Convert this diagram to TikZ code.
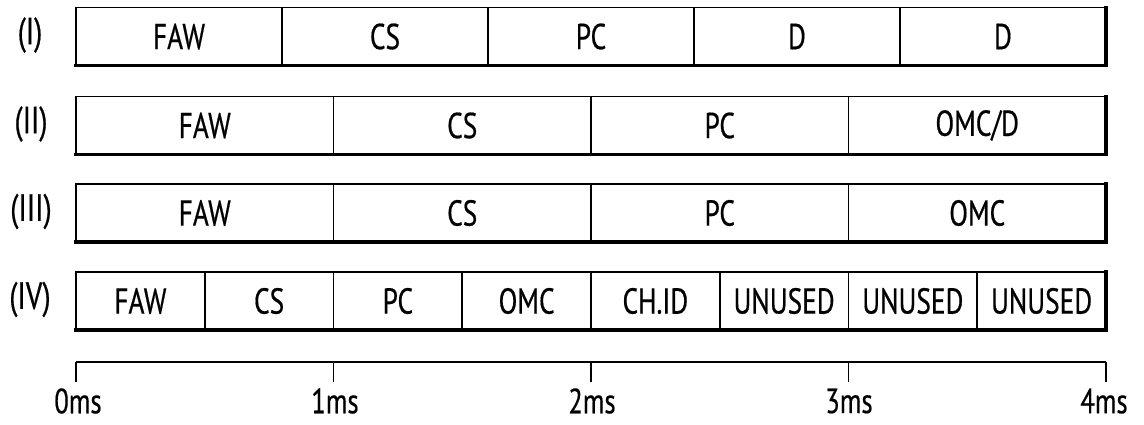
\documentclass[tikz,border=0pt]{standalone}
\usepackage{fontspec}
\setmainfont[FakeStretch=0.76,FakeBold=0.5]{PT Sans}
\usetikzlibrary{positioning}

\begin{document}
\begin{tikzpicture}[
    x=1pt, y=-1pt,
    node distance = 0pt,
    cell/.style = {
        rectangle,
        draw=black,
        line width=1.6pt,
        outer sep=0pt,
        inner sep=0pt,
        minimum height=58pt,
        font=\fontsize{36}{40}\selectfont
    },
    fifth/.style = {cell, minimum width=206pt},
    quarter/.style = {cell, minimum width=257.5pt},
    eighth/.style = {cell, minimum width=128.75pt},
    rowlabel/.style = {font=\fontsize{38}{42}\selectfont},
    shadow/.style = {line width=3.6pt, draw=black, line cap=rect},
    axis/.style = {line width=1.8pt, draw=black},
    scalelabel/.style = {font=\fontsize{35}{40}\selectfont}
]
    \useasboundingbox (0,0) rectangle (1144,424);

    % Row labels
    \node [rowlabel] (lab1) at (30,35) {(I)};
    \node [rowlabel] (lab2) at (31,124) {(II)};
    \node [rowlabel] (lab3) at (31,211.5) {(III)};
    \node [rowlabel] (lab4) at (30,299.5) {(IV)};

    % Row I
    \node [fifth, anchor=west] (r1a) at (76,36.5) {FAW};
    \node [fifth, right=of r1a] (r1b) {CS};
    \node [fifth, right=of r1b] (r1c) {PC};
    \node [fifth, right=of r1c] (r1d) {D};
    \node [fifth, right=of r1d] (r1e) {D};

    % Row II
    \node [quarter, anchor=west] (r2a) at (76,125.5) {FAW};
    \node [quarter, right=of r2a] (r2b) {CS};
    \node [quarter, right=of r2b] (r2c) {PC};
    \node [quarter, right=of r2c] (r2d) {OMC/D};

    % Row III
    \node [quarter, anchor=west] (r3a) at (76,213) {FAW};
    \node [quarter, right=of r3a] (r3b) {CS};
    \node [quarter, right=of r3b] (r3c) {PC};
    \node [quarter, right=of r3c] (r3d) {OMC};

    % Row IV
    \node [eighth, anchor=west] (r4a) at (76,301) {FAW};
    \node [eighth, right=of r4a] (r4b) {CS};
    \node [eighth, right=of r4b] (r4c) {PC};
    \node [eighth, right=of r4c] (r4d) {OMC};
    \node [eighth, right=of r4d] (r4e) {CH.ID};
    \node [eighth, right=of r4e] (r4f) {UNUSED};
    \node [eighth, right=of r4f] (r4g) {UNUSED};
    \node [eighth, right=of r4g] (r4h) {UNUSED};

    % Heavy lower and right edges
    \draw [shadow] (r1a.south west) -- (r1e.south east) -- (r1e.north east);
    \draw [shadow] (r2a.south west) -- (r2d.south east) -- (r2d.north east);
    \draw [shadow] (r3a.south west) -- (r3d.south east) -- (r3d.north east);
    \draw [shadow] (r4a.south west) -- (r4h.south east) -- (r4h.north east);

    % Time scale
    \coordinate (t0) at (76,362);
    \coordinate (t1) at (333.5,362);
    \coordinate (t2) at (591,362);
    \coordinate (t3) at (848.5,362);
    \coordinate (t4) at (1106,362);
    \coordinate (b0) at (76,382);
    \coordinate (b1) at (333.5,382);
    \coordinate (b2) at (591,382);
    \coordinate (b3) at (848.5,382);
    \coordinate (b4) at (1106,382);

    \draw [axis] (t0) -- (t4);
    \draw [axis] (t0) -- (b0);
    \draw [axis] (t1) -- (b1);
    \draw [axis] (t2) -- (b2);
    \draw [axis] (t3) -- (b3);
    \draw [axis] (t4) -- (b4);

    \node [scalelabel] (s0) at (78,401) {0ms};
    \node [scalelabel] (s1) at (335,401) {1ms};
    \node [scalelabel] (s2) at (592,401) {2ms};
    \node [scalelabel] (s3) at (849,401) {3ms};
    \node [scalelabel] (s4) at (1104,401) {4ms};

\end{tikzpicture}
\end{document}
